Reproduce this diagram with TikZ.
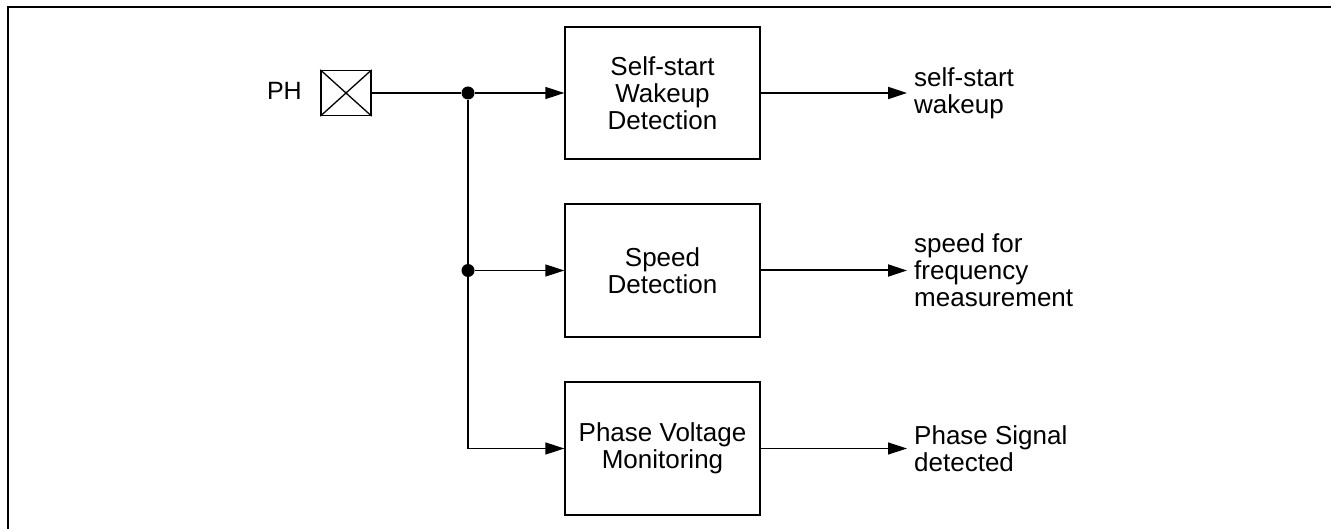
\documentclass[tikz,border=0pt]{standalone}
\usepackage{fontspec}
\setmainfont{Liberation Sans}
\usetikzlibrary{arrows.meta}
\begin{document}
\begin{tikzpicture}[x=1pt,y=-1pt,
  txt/.style={font=\fontsize{26}{27}\selectfont},
  blk/.style={txt, draw, line width=1.3pt, minimum width=195pt, align=center, inner sep=0pt},
  dot/.style={circle, fill, inner sep=0pt, minimum size=13pt},
  wire/.style={line width=1.3pt},
  arr/.style={wire, -{Triangle[length=19pt,width=12pt]}},
  thickarr/.style={line width=2pt, -{Triangle[length=19pt,width=12pt]}},
  outl/.style={txt, align=left, inner xsep=7pt, inner ysep=0pt, anchor=west}]
\useasboundingbox (0,0) rectangle (1331,529);
\draw[line width=2pt] (8,529) -- (8,7) -- (1331,7);
% input pin
\node[draw, line width=1.3pt, minimum width=50pt, minimum height=45pt, inner sep=0pt] (ph) at (346,93) {};
\draw[wire] (ph.north west) -- (ph.south east) (ph.north east) -- (ph.south west);
\node[txt, anchor=base east, inner sep=0pt, font=\fontsize{25}{27}\selectfont] (phl) at (302,100) {PH};
% blocks
\node[blk, minimum height=132pt] (b1) at (662.5,93) {Self-start\\Wakeup\\Detection};
\node[blk, minimum height=133pt] (b2) at (662.5,270.5) {Speed\\Detection};
\node[blk, minimum height=133pt] (b3) at (662.5,448.5) {Phase Voltage\\Monitoring};
% junctions
\node[dot] (j1) at (468,93) {};
\node[dot] (j2) at (468,270.5) {};
% outputs
\node[outl] (o1) at (907,93) {self-start\\wakeup};
\node[outl] (o2) at (907,270.5) {speed for\\frequency\\measurement};
\node[outl] (o3) at (907,448.5) {Phase Signal\\detected};
% connectors
\draw[wire] (ph.east) -- (j1);
\draw[wire] (j1) -- (j2);
\draw[arr] (j1) -- (b1.west);
\draw[arr] (j2) -- (b2.west);
\draw[arr] (j2) |- (b3.west);
\draw[thickarr] (b1.east) -- (o1.west);
\draw[thickarr] (b2.east) -- (o2.west);
\draw[arr] (b3.east) -- (o3.west);
\end{tikzpicture}
\end{document}
